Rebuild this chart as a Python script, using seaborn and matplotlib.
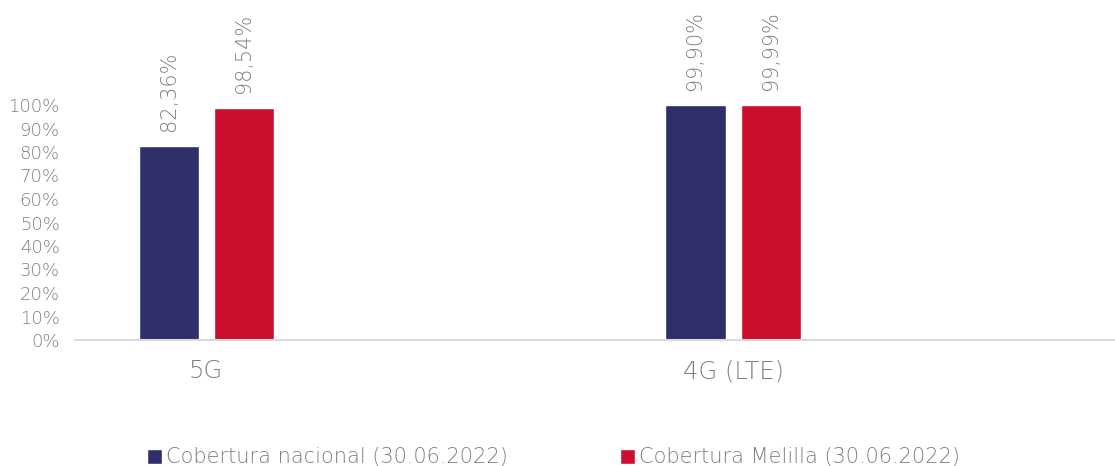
import pandas as pd
import seaborn as sns
import matplotlib.pyplot as plt

# data
categorias = ["5G", "4G (LTE)"]
series = ["Cobertura nacional (30.06.2022)", "Cobertura Melilla (30.06.2022)"]
nacional = [82.36, 99.90]
melilla = [98.54, 99.99]
colores = ["#2F2F6A", "#CC0F2F"]
yticks = list(range(0, 101, 10))

df = pd.DataFrame({
    "categoria": categorias * 2,
    "serie": [series[0]] * 2 + [series[1]] * 2,
    "valor": nacional + melilla,
})

sns.set_style("white")
plt.rcParams['font.family'] = ['DejaVu Sans']
gris = "#7F7F7F"
peso = "light"

fig = plt.figure(figsize=(11.15, 4.66), dpi=100)
ax = fig.add_axes([75 / 1115, 126 / 466, 1040 / 1115, 235 / 466])

sns.barplot(data=df, x="categoria", y="valor", hue="serie", palette=colores,
            width=0.285, gap=0.2, ax=ax, saturation=1, legend=True)

for cont in ax.containers:
    labels = [f"{b.get_height():.2f}".replace(".", ",") + "%" for b in cont]
    ax.bar_label(cont, labels=labels, rotation=90, padding=11, color=gris,
                 fontsize=15, fontweight=peso, clip_on=False)

ax.set_ylim(0, 100)
ax.set_xlim(-0.249, 1.725)
ax.set_yticks(yticks)
ax.set_yticklabels([f"{t}%" for t in yticks], color=gris, fontsize=13, fontweight=peso)
ax.tick_params(axis="y", length=0, pad=11)
ax.tick_params(axis="x", length=0, pad=14, labelsize=17.5, labelcolor=gris)
for t in ax.get_xticklabels():
    t.set_fontweight(peso)
ax.set_xlabel("")
ax.set_ylabel("")
for s in ["top", "right", "left"]:
    ax.spines[s].set_visible(False)
ax.spines["bottom"].set_color("#D9D9D9")
ax.spines["bottom"].set_linewidth(1.5)

handles, lbls = ax.get_legend_handles_labels()
ax.legend(handles, lbls, loc="center", bbox_to_anchor=(0.5 - 0.04, -0.5), ncol=2,
          frameon=False, handlelength=0.7, handleheight=0.7,
          handletextpad=0.2, columnspacing=5.4, labelcolor=gris,
          prop={"weight": peso, "size": 15})

fig.savefig("out.png", dpi=100)
